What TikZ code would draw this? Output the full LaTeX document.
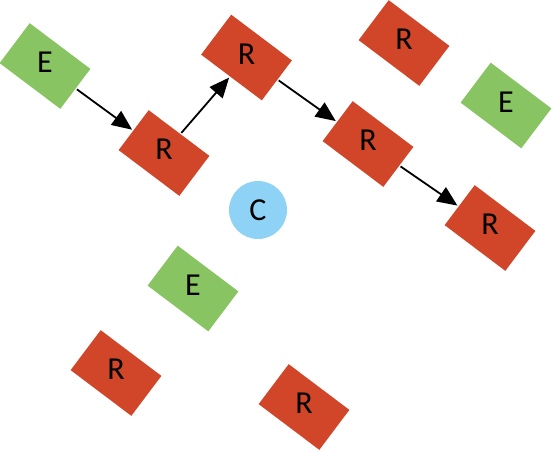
\documentclass[tikz,border=0pt]{standalone}
\usepackage{fontspec}
\setmainfont{Carlito}
\usetikzlibrary{arrows.meta}
\definecolor{rbox}{RGB}{209,69,40}
\definecolor{gbox}{RGB}{137,196,98}
\definecolor{cblue}{RGB}{142,210,246}
\tikzset{
  boxshape/.style={draw=none, rectangle, minimum width=76pt, minimum height=50pt, inner sep=0pt, outer sep=1.5pt, rotate=-37},
  rb/.style={boxshape, fill=rbox},
  gb/.style={boxshape, fill=gbox},
  lbl/.style={font=\fontsize{32}{34}\selectfont, inner sep=0pt, yshift=3.5pt},
  conn/.style={-{Triangle[length=20pt,width=17pt]}, line width=1.8pt, black},
}
\begin{document}
\begin{tikzpicture}[x=1pt,y=-1pt]
\useasboundingbox (0,0) rectangle (552,451);
\node[gb] (e1) at (45,66) {};
\node[rb] (r1) at (164,153) {};
\node[rb] (r2) at (246.5,57.5) {};
\node[rb] (r3) at (368,144) {};
\node[rb] (r4) at (490,228) {};
\node[rb] (r5) at (404,43) {};
\node[gb] (e2) at (506,105.5) {};
\node[gb] (e3) at (193,288.5) {};
\node[rb] (r6) at (116,373) {};
\node[rb] (r7) at (304,407) {};
\node[circle, fill=cblue, minimum size=58pt, inner sep=0pt] (c) at (258,210) {};
\foreach \n/\t in {e1/E,r1/R,r2/R,r3/R,r4/R,r5/R,e2/E,e3/E,r6/R,r7/R}{
  \node[lbl] (t\n) at (\n) {\t};
}
\node[font=\fontsize{32}{34}\selectfont, inner sep=0pt] (tc) at (c) {C};
\draw[conn] (e1) -- (r1);
\draw[conn] (r1) -- (r2);
\draw[conn] (r2) -- (r3);
\draw[conn] (r3) -- (r4);
\end{tikzpicture}
\end{document}
